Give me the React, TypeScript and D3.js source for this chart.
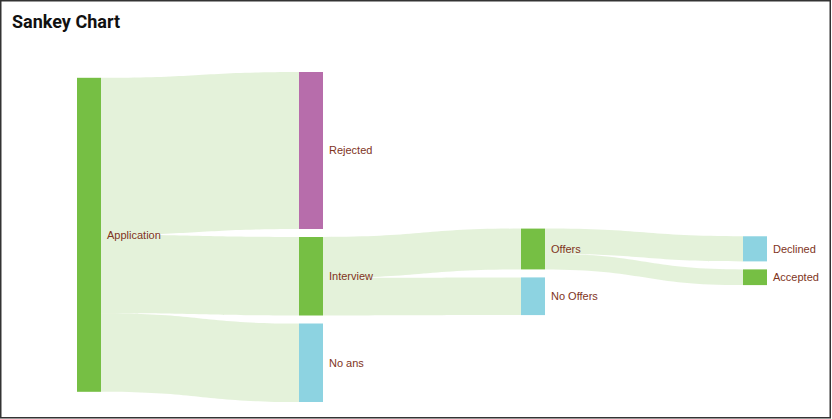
import { useMemo } from "react";
import * as d3 from "d3";

// nodes and flows of the sankey
const nodeNames = ["Application", "Rejected", "Interview", "No ans", "Offers", "No Offers", "Declined", "Accepted"];
const linkSources = ["Application", "Application", "Application", "Interview", "Interview", "Offers", "Offers"];
const linkTargets = ["Rejected", "Interview", "No ans", "Offers", "No Offers", "Declined", "Accepted"];
const linkValues = [50, 25, 25, 13, 12, 8, 5];

const nodeColors: Record<string, string> = {
    Application: "#76bf44",
    Rejected: "#b76dab",
    Interview: "#76bf44",
    "No ans": "#8dd3e1",
    Offers: "#76bf44",
    "No Offers": "#8dd3e1",
    Declined: "#8dd3e1",
    Accepted: "#76bf44",
};

const W = 832;
const H = 419;

type SNode = {
    name: string;
    sourceLinks: SLink[];
    targetLinks: SLink[];
    value: number;
    layer: number;
    x0: number;
    x1: number;
    y: number;
    dy: number;
};
type SLink = { source: SNode; target: SNode; value: number; dy: number; sy: number; ty: number };

// the classic (v0.x) sankey layout: center-weighted relaxation
function layout(left: number, top: number, right: number, bottom: number, nodeWidth: number, pad: number, iterations = 32) {
    const height = bottom - top;
    const nodes: SNode[] = nodeNames.map((name) => ({
        name, sourceLinks: [], targetLinks: [], value: 0, layer: 0, x0: 0, x1: 0, y: 0, dy: 0,
    }));
    const byName = new Map(nodes.map((n) => [n.name, n]));
    const links: SLink[] = linkValues.map((value, i) => {
        const l = { source: byName.get(linkSources[i])!, target: byName.get(linkTargets[i])!, value, dy: 0, sy: 0, ty: 0 };
        l.source.sourceLinks.push(l);
        l.target.targetLinks.push(l);
        return l;
    });
    for (const n of nodes) {
        n.value = Math.max(d3.sum(n.sourceLinks, (l) => l.value), d3.sum(n.targetLinks, (l) => l.value));
    }

    // columns by distance from the sources
    let current = nodes.filter((n) => n.targetLinks.length === 0);
    let depth = 0;
    while (current.length) {
        const next: SNode[] = [];
        for (const n of current) {
            n.layer = depth;
            for (const l of n.sourceLinks) if (!next.includes(l.target)) next.push(l.target);
        }
        current = next;
        depth++;
    }
    const xScale = d3.scalePoint<number>().domain(d3.range(depth)).range([left, right - nodeWidth]);
    const columns: SNode[][] = d3.range(depth).map(() => []);
    for (const n of nodes) {
        n.x0 = xScale(n.layer)!;
        n.x1 = n.x0 + nodeWidth;
        columns[n.layer].push(n);
    }

    const kyVal = d3.min(columns, (c) => (height - (c.length - 1) * pad) / d3.sum(c, (n) => n.value))!;
    const ky = d3.scaleLinear().domain([0, 1]).range([0, kyVal]);
    columns.forEach((col) => col.forEach((n, i) => { n.y = i; n.dy = ky(n.value); }));
    links.forEach((l) => (l.dy = ky(l.value)));

    const center = (n: SNode) => n.y + n.dy / 2;

    const resolve = () => {
        for (const col of columns) {
            col.sort((a, b) => a.y - b.y);
            let y0 = 0;
            for (const n of col) {
                const d = y0 - n.y;
                if (d > 0) n.y += d;
                y0 = n.y + n.dy + pad;
            }
            const over = y0 - pad - height;
            if (over > 0) {
                let last = col[col.length - 1];
                last.y -= over;
                y0 = last.y;
                for (let i = col.length - 2; i >= 0; --i) {
                    const n = col[i];
                    const d = n.y + n.dy + pad - y0;
                    if (d > 0) n.y -= d;
                    y0 = n.y;
                }
            }
        }
    };

    resolve();
    let alpha = 1;
    for (let it = iterations; it > 0; --it) {
        alpha *= 0.99;
        for (const col of columns.slice().reverse()) {
            for (const n of col) {
                if (!n.sourceLinks.length) continue;
                const y = d3.sum(n.sourceLinks, (l) => center(l.target) * l.value) / d3.sum(n.sourceLinks, (l) => l.value);
                n.y += (y - center(n)) * alpha;
            }
        }
        resolve();
        for (const col of columns) {
            for (const n of col) {
                if (!n.targetLinks.length) continue;
                const y = d3.sum(n.targetLinks, (l) => center(l.source) * l.value) / d3.sum(n.targetLinks, (l) => l.value);
                n.y += (y - center(n)) * alpha;
            }
        }
        resolve();
    }

    for (const n of nodes) {
        n.y += top;
        n.sourceLinks.sort((a, b) => a.target.y - b.target.y);
        n.targetLinks.sort((a, b) => a.source.y - b.source.y);
    }
    for (const n of nodes) {
        let sy = 0, ty = 0;
        for (const l of n.sourceLinks) { l.sy = sy; sy += l.dy; }
        for (const l of n.targetLinks) { l.ty = ty; ty += l.dy; }
    }
    return { nodes, links };
}

function bandPath(l: SLink) {
    const sx = l.source.x1;
    const tx = l.target.x0;
    const mx = (sx + tx) / 2;
    const s0 = l.source.y + l.sy;
    const t0 = l.target.y + l.ty;
    const p = d3.path();
    p.moveTo(sx, s0);
    p.bezierCurveTo(mx, s0, mx, t0, tx, t0);
    p.lineTo(tx, t0 + l.dy);
    p.bezierCurveTo(mx, t0 + l.dy, mx, s0 + l.dy, sx, s0 + l.dy);
    p.closePath();
    return p.toString();
}

export default function App() {
    const { nodes, links } = useMemo(() => layout(77, 72, 767, 402, 24, 8), []);

    return (
        <div style={{ position: "absolute", left: 0, top: 0 }}>
            <svg width={W} height={H} style={{ display: "block" }}>
                <rect x={0} y={0} width={W} height={H} fill="#fff" />
                <rect x={0.75} y={0.75} width={829.5} height={417} fill="none" stroke="#333" strokeWidth={1.5} />
                <text x={12} y={28} fontFamily="Roboto" fontWeight="bold" fontSize={18} fill="#111">
                    Sankey Chart
                </text>
                <g>
                    {links.map((l, i) => (
                        <path key={i} d={bandPath(l)} fill={nodeColors[l.source.name]} fillOpacity={0.2} />
                    ))}
                </g>
                <g>
                    {nodes.map((n) => (
                        <rect key={n.name} x={n.x0} y={n.y} width={n.x1 - n.x0} height={n.dy} fill={nodeColors[n.name]} />
                    ))}
                </g>
                <g fontFamily="'Liberation Sans', Arial, sans-serif" fontSize={11} fill="#80341c">
                    {nodes.map((n) => (
                        <text key={n.name} x={n.x1 + 6} y={n.y + n.dy / 2} dy="0.35em">
                            {n.name}
                        </text>
                    ))}
                </g>
            </svg>
        </div>
    );
}
